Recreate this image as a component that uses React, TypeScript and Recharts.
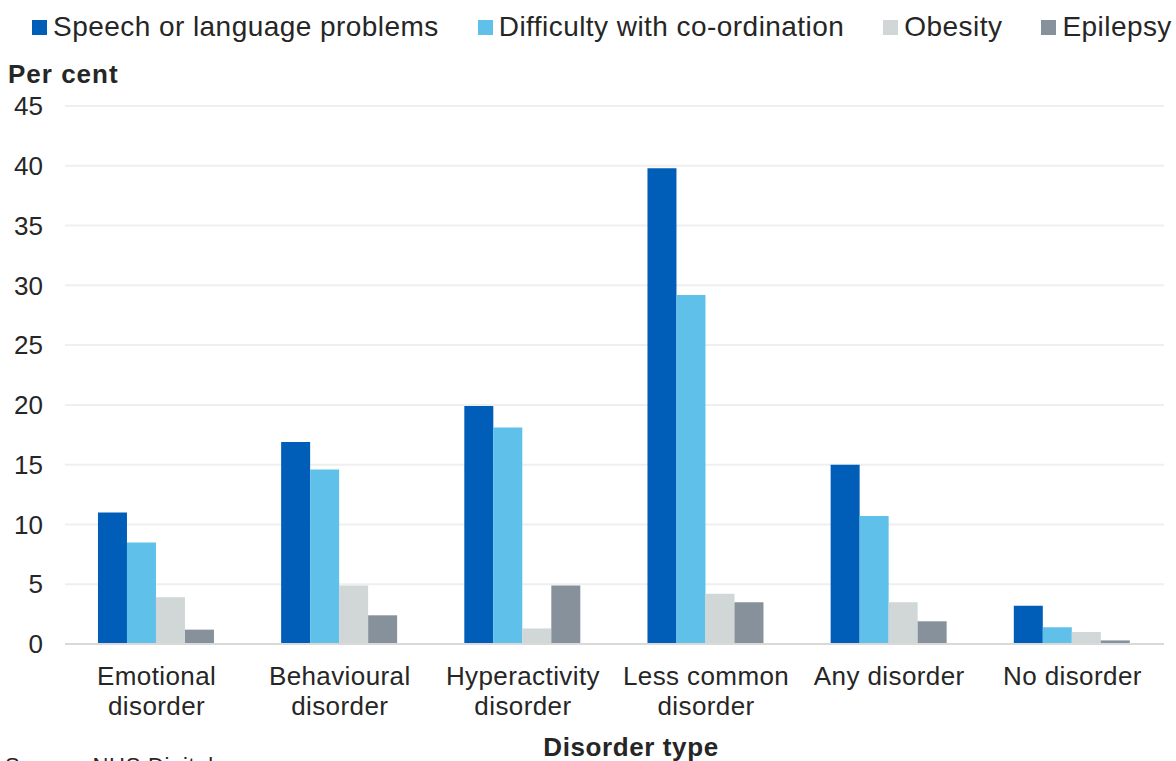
import React from 'react';
import { BarChart, Bar, XAxis, YAxis, CartesianGrid } from 'recharts';

// Disorder categories (x axis), split into two lines for the tick labels
const categories = [
  'Emotional disorder',
  'Behavioural disorder',
  'Hyperactivity disorder',
  'Less common disorder',
  'Any disorder',
  'No disorder',
];
const tickLines: string[][] = [
  ['Emotional', 'disorder'],
  ['Behavioural', 'disorder'],
  ['Hyperactivity', 'disorder'],
  ['Less common', 'disorder'],
  ['Any disorder'],
  ['No disorder'],
];

// Per cent of children with each physical health problem
const speech = [11.0, 16.9, 19.9, 39.8, 15.0, 3.2];
const coordination = [8.5, 14.6, 18.1, 29.2, 10.7, 1.4];
const obesity = [3.9, 4.9, 1.3, 4.2, 3.5, 1.0];
const epilepsy = [1.2, 2.4, 4.9, 3.5, 1.9, 0.3];

const yTicks = [0, 5, 10, 15, 20, 25, 30, 35, 40, 45];

const series = [
  { key: 'speech', name: 'Speech or language problems', color: '#005EB8' },
  { key: 'coordination', name: 'Difficulty with co-ordination', color: '#5FC1E9' },
  { key: 'obesity', name: 'Obesity', color: '#D1D6D6' },
  { key: 'epilepsy', name: 'Epilepsy', color: '#86919C' },
];

const data = categories.map((name, i) => ({
  name,
  speech: speech[i],
  coordination: coordination[i],
  obesity: obesity[i],
  epilepsy: epilepsy[i],
}));

const FONT = '"Liberation Sans", Arial, sans-serif';
const TEXT = '#262626';

const CategoryTick = (props: any) => {
  const { x, y, index } = props;
  const lines = tickLines[index] || [props.payload.value];
  return (
    <text x={x} y={y} textAnchor="middle" fill={TEXT} fontSize={26} fontFamily={FONT} letterSpacing={0.4}>
      {lines.map((l, i) => (
        <tspan key={i} x={x} dy={i === 0 ? 41 : 30}>
          {l}
        </tspan>
      ))}
    </text>
  );
};

const App: React.FC = () => {
  return (
    <div
      style={{
        position: 'absolute',
        left: 0,
        top: 0,
        width: 1176,
        height: 761,
        overflow: 'hidden',
        background: '#fff',
        fontFamily: FONT,
        color: TEXT,
      }}
    >
      {/* legend */}
      <div style={{ position: 'absolute', left: 32, top: 10, display: 'flex', alignItems: 'center', whiteSpace: 'nowrap' }}>
        {series.map((s, i) => (
          <div
            key={s.key}
            style={{ display: 'flex', alignItems: 'center', marginRight: i < series.length - 1 ? 39 : 0 }}
          >
            <div style={{ width: 15, height: 15, background: s.color, marginRight: 6 }} />
            <span style={{ fontSize: 28, lineHeight: '34px', letterSpacing: 0.45 }}>{s.name}</span>
          </div>
        ))}
      </div>

      <div
        style={{
          position: 'absolute',
          left: 8,
          top: 58,
          fontSize: 26,
          fontWeight: 'bold',
          lineHeight: '32px',
          letterSpacing: 1,
        }}
      >
        Per cent
      </div>

      <BarChart
        width={1176}
        height={761}
        data={data}
        margin={{ top: 106, right: 12, bottom: 0, left: 0 }}
        barCategoryGap="18%"
        barGap={0}
      >
        <CartesianGrid vertical={false} stroke="#EFEFEF" strokeWidth={2} />
        <XAxis
          dataKey="name"
          height={117}
          tickLine={false}
          tickSize={0}
          tickMargin={0}
          axisLine={{ stroke: '#D9D9D9', strokeWidth: 2 }}
          tick={<CategoryTick />}
          interval={0}
        />
        <YAxis
          width={65}
          domain={[0, 45]}
          ticks={yTicks}
          tickLine={false}
          tickSize={0}
          tickMargin={22}
          axisLine={false}
          tick={{ fill: TEXT, fontSize: 26, fontFamily: FONT }}
        />
        {series.map((s) => (
          <Bar key={s.key} dataKey={s.key} name={s.name} fill={s.color} isAnimationActive={false} />
        ))}
      </BarChart>

      <div
        style={{
          position: 'absolute',
          left: 631,
          top: 734,
          transform: 'translateX(-50%)',
          fontSize: 26,
          fontWeight: 'bold',
          lineHeight: '26px',
          letterSpacing: 0.6,
          whiteSpace: 'nowrap',
        }}
      >
        Disorder type
      </div>

      <div
        style={{
          position: 'absolute',
          left: 5,
          top: 753,
          fontSize: 22,
          lineHeight: '26px',
          letterSpacing: 0.7,
          whiteSpace: 'nowrap',
        }}
      >
        Source: NHS Digital
      </div>
    </div>
  );
};

export default App;
